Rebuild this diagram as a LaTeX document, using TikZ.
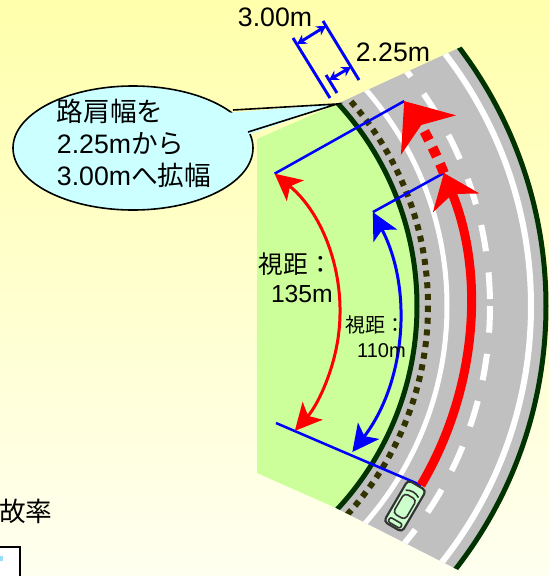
\documentclass[tikz,border=0pt]{standalone}
\usepackage{fontspec}
\setmainfont{Liberation Sans}
\newfontfamily\jp{Noto Sans CJK JP}
\usetikzlibrary{arrows.meta,calc}

\definecolor{grass}{RGB}{204,255,153}
\definecolor{asphalt}{RGB}{192,192,192}
\definecolor{verge}{RGB}{0,51,0}
\definecolor{stud}{RGB}{51,51,0}
\definecolor{bubble}{RGB}{204,255,255}
\definecolor{carbody}{RGB}{204,255,204}
\definecolor{carline}{RGB}{51,51,51}

\tikzset{
    sight/.style={line width=2.25pt,
        {Stealth[length=20pt,width=20pt,inset=5pt]}-{Stealth[length=20pt,width=20pt,inset=5pt]}},
    sightline/.style={blue, line width=1.9pt},
    dimline/.style={blue, line width=2.2pt},
    dimarrow/.style={blue, line width=2.2pt,
        {Stealth[length=7pt,width=8pt]}-{Stealth[length=7pt,width=8pt]}},
    txt/.style={inner sep=0pt},
}

\begin{document}
\begin{tikzpicture}[x=0.75pt, y=-0.75pt]
        \useasboundingbox (0,0) rectangle (549,576);
        \shade[top color={rgb,255:red,255;green,255;blue,172},
               bottom color={rgb,255:red,255;green,255;blue,240}] (0,0) rectangle (549,576);

        % Bend
        \coordinate (C) at (118,306);
        \begin{scope}
        \clip (257,139) -- (337,104) -- (600,-17) -- (600,642) -- (336,508) -- (257,473) -- cycle;
        \fill[grass]    (C) circle (299);
        \fill[asphalt, even odd rule] (C) circle (428) (C) circle (299);
        \draw[stud, line width=4.5pt, dash pattern=on 4.5pt off 4.3pt] (C) circle (310); % shoulder
        \draw[white, line width=3.75pt] (C) circle (329);
        \draw[white, line width=4.5pt, dash pattern=on 20pt off 16pt] (C) circle (372); % centre line
        \draw[white, line width=4.5pt] (C) circle (413);
        \draw[verge, line width=3.75pt] (C) circle (299); % inner edge
        \draw[verge, line width=3.75pt] (C) circle (428); % outer edge
        \end{scope}

        % Sight distances
        \coordinate (R0)  at (161,312);
        \coordinate (B0)  at (175,316);
        \coordinate (car) at ($(C)+(30.6:352)$);
        \coordinate (mid) at ($(C)+(-22.2:352)$);
        \coordinate (far) at ($(C)+(-35.6:352)$);
        \coordinate (r1)  at ($(R0)+(-50.6:179)$);
        \coordinate (b1)  at ($(B0)+(-27.7:223.5)$);
        \coordinate (base) at (276,423);

        \draw[sightline] (r1)   -- (far);
        \draw[sightline] (b1)   -- (mid);
        \draw[sightline] (base) -- (car);

        \draw[sight, red]  (r1) arc[start angle=-50.6, end angle=41.6, radius=179];
        \draw[sight, blue] (b1) arc[start angle=-27.7, end angle=37.5, radius=223.5];

        % Vehicle path
        \draw[red, line width=6.75pt, -{Stealth[length=24pt,width=37pt,inset=7pt]}]
                (car) arc[start angle=30.6, end angle=-22.2, radius=352];
        \draw[red, line width=7.5pt, dash pattern=on 7.5pt off 6pt,
              -{Stealth[length=31pt,width=50pt,inset=9pt]}]
                (mid) arc[start angle=-22.2, end angle=-35.6, radius=352];

        % Car
        \begin{scope}[shift={(405,506)}, rotate=59.7]
        \draw[carline, line width=1.6pt, fill=carbody, rounded corners=3pt] (-24,-10.5) rectangle (24,10.5);
        \draw[carline, line width=1.2pt, fill=carbody, rounded corners=3pt] (-12,-7) rectangle (11,7);   % roof
        \draw[carline, line width=1.2pt] (14,-7.5) .. controls (17,-3) and (17,3) .. (14,7.5);          % windscreen
        \draw[carline, line width=1.2pt, rounded corners=1.5pt] (-22,-7) rectangle (-17,7);             % boot
        \end{scope}

        % Shoulder widths
        \draw[dimline]  (293,38) -- (330,98);
        \draw[dimline]  (323,21) -- (359,80);
        \draw[dimline]  (326,75) -- (337,93);
        \draw[dimarrow] (297,44) -- (326,26);
        \draw[dimarrow] (329,80) -- (351,67);
        \node[txt, font=\fontsize{20}{24}\selectfont] (w300) at (275,17) {3.00m};
        \node[txt, font=\fontsize{20}{24}\selectfont] (w225) at (393,52) {2.25m};

        % Callout
        \draw[black, line width=1.2pt, fill=bubble] (133,148) ellipse (120 and 62);
        \fill[bubble]   (226,113) -- (337,104) -- (244,136) -- cycle;
        \draw[black, line width=1.2pt] (233,110) -- (337,104) -- (248,132);
        \node[txt, align=left, font=\fontsize{20}{24}\selectfont] (note) at (134,143)
                {{\jp 路肩幅を}\\2.25m{\jp から}\\3.00m{\jp へ拡幅}};

        % Labels
        \node[txt, align=right, anchor=east, font=\fontsize{18.5}{22}\selectfont] (l135) at (333,278)
                {{\jp 視距：}\\135m};
        \node[txt, align=right, anchor=east, font=\fontsize{15}{19}\selectfont] (l110) at (406,337)
                {{\jp 視距：}\\110m};

        % Cut-off legend
        \node[txt, anchor=west, font=\fontsize{20}{24}\selectfont] (rate) at (-1,511) {\jp 故率};
        \draw[black, line width=1.2pt, fill=white] (-5,547) rectangle (20,585);
        \fill[cyan!40]  (0,556) rectangle (3,561);
\end{tikzpicture}
\end{document}
